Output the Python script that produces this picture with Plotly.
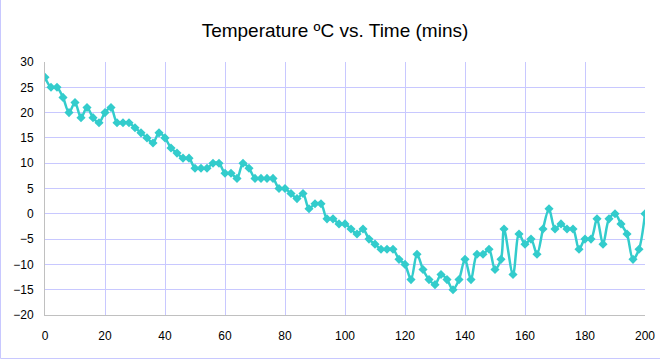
import plotly.graph_objects as go

time_mins = [0, 2, 4, 6, 8, 10, 12, 14, 16, 18, 20, 22, 24, 26, 28, 30, 32, 34, 36, 38,
             40, 42, 44, 46, 48, 50, 52, 54, 56, 58, 60, 62, 64, 66, 68, 70, 72, 74, 76, 78,
             80, 82, 84, 86, 88, 90, 92, 94, 96, 98, 100, 102, 104, 106, 108, 110, 112, 114, 116, 118,
             120, 122, 124, 126, 128, 130, 132, 134, 136, 138, 140, 142, 144, 146, 148, 150, 152, 153, 156, 158,
             160, 162, 164, 166, 168, 170, 172, 174, 176, 178, 180, 182, 184, 186, 188, 190, 192, 194, 196, 198, 200]
temperature = [27, 25, 25, 23, 20, 22, 19, 21, 19, 18, 20, 21, 18, 18, 18, 17, 16, 15, 14, 16,
               15, 13, 12, 11, 11, 9, 9, 9, 10, 10, 8, 8, 7, 10, 9, 7, 7, 7, 7, 5,
               5, 4, 3, 4, 1, 2, 2, -1, -1, -2, -2, -3, -4, -3, -5, -6, -7, -7, -7, -9,
               -10, -13, -8, -11, -13, -14, -12, -13, -15, -13, -9, -13, -8, -8, -7, -11, -9, -3, -12, -4,
               -6, -5, -8, -3, 1, -3, -2, -3, -3, -7, -5, -5, -1, -6, -1, 0, -2, -4, -9, -7, 0]

x_ticks = [0, 20, 40, 60, 80, 100, 120, 140, 160, 180, 200]
y_ticks = [30, 25, 20, 15, 10, 5, 0, -5, -10, -15, -20]

TEAL = "#33CCCC"
GRID = "#C8C8FF"
FONT = "Arial, Liberation Sans, sans-serif"

fig = go.Figure()
fig.add_trace(go.Scatter(
    x=time_mins, y=temperature, mode="lines+markers",
    line=dict(color=TEAL, width=2.5, shape="spline", smoothing=0.9),
    marker=dict(symbol="diamond", size=7, color=TEAL),
    showlegend=False, hoverinfo="x+y",
))

fig.update_layout(
    width=660, height=360,
    margin=dict(l=45, r=15, t=62, b=45, autoexpand=False),
    paper_bgcolor="white", plot_bgcolor="white",
    title=dict(text="Temperature ºC vs. Time (mins)", x=335/660, xanchor="center",
               y=1 - 30/360, yanchor="middle",
               font=dict(family=FONT, size=19, color="black")),
    font=dict(family=FONT, size=12, color="black"),
    xaxis=dict(range=[0, 200], tickvals=x_ticks, showgrid=True, gridcolor=GRID, gridwidth=1,
               zeroline=False, showline=True, linecolor="#C0C0C0", linewidth=1,
               ticks="", ticklabelstandoff=10, tickfont=dict(size=12), automargin=False),
    yaxis=dict(range=[-20, 30], tickvals=y_ticks, showgrid=True, gridcolor=GRID, gridwidth=1,
               zeroline=False, showline=True, linecolor="#C0C0C0", linewidth=1,
               ticks="", ticklabelstandoff=8, tickfont=dict(size=12), automargin=False),
    shapes=[
        dict(type="line", xref="paper", yref="paper", x0=-44.5/600, x1=-44.5/600,
             y0=-43.5/253, y1=1 + 62/253, line=dict(color=GRID, width=1)),
        dict(type="line", xref="paper", yref="paper", x0=-44.5/600, x1=1 + 15/600,
             y0=-43.5/253, y1=-43.5/253, line=dict(color=GRID, width=1)),
    ],
)

fig.write_html("out.html", config={"displayModeBar": False},
               post_script="document.body.style.margin='0';")
